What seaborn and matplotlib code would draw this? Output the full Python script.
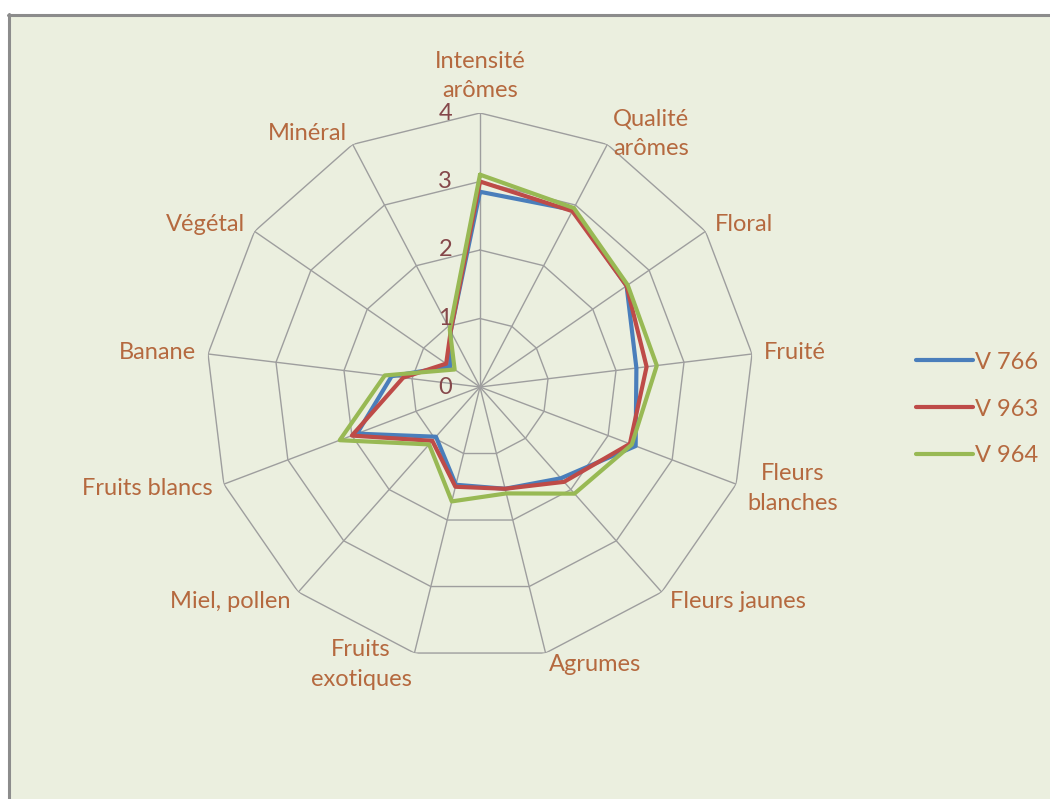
import numpy as np
import pandas as pd
import matplotlib
matplotlib.use("Agg")
import matplotlib.pyplot as plt
from matplotlib.patches import Rectangle
from matplotlib.lines import Line2D
import seaborn as sns

categories = ["Intensité\narômes", "Qualité\narômes", "Floral", "Fruité",
              "Fleurs\nblanches", "Fleurs jaunes", "Agrumes", "Fruits\nexotiques",
              "Miel, pollen", "Fruits blancs", "Banane", "Végétal", "Minéral"]
series = ["V 766", "V 963", "V 964"]
v766 = [2.85, 2.92, 2.60, 2.30, 2.43, 1.78, 1.53, 1.47, 0.97, 1.92, 1.30, 0.53, 0.92]
v963 = [3.00, 2.90, 2.60, 2.45, 2.34, 1.85, 1.53, 1.50, 1.05, 2.00, 1.13, 0.60, 0.92]
v964 = [3.10, 2.95, 2.62, 2.60, 2.37, 2.08, 1.60, 1.72, 1.12, 2.19, 1.40, 0.45, 0.95]
levels = [0, 1, 2, 3, 4]

colors = {"V 766": "#4A7EBB", "V 963": "#BE4B48", "V 964": "#98B954"}
bg = "#EBEFDF"
grid_col = "#9E9E9E"
label_col = "#B5693F"
tick_col = "#85474A"

sns.set_theme(style="white")
plt.rcParams["font.family"] = ["Lato", "DejaVu Sans"]
fs = 17

n = len(categories)
angles = np.arange(n) * 2 * np.pi / n

# tableau long pour seaborn (polygone fermé)
rows = []
for name, vals in zip(series, [v766, v963, v964]):
    for a, v in zip(list(angles) + [2 * np.pi], vals + vals[:1]):
        rows.append({"theta": a, "valeur": v, "serie": name})
df = pd.DataFrame(rows)

fig = plt.figure(figsize=(10.5, 7.99), dpi=100)
fig.patch.set_facecolor("white")

# cadre de fond
W, H = 1050, 799
fig.patches.append(Rectangle((8 / W, 0), 1 - 8 / W, (H - 14) / H,
                             transform=fig.transFigure, facecolor=bg,
                             edgecolor="none", zorder=-2))
fig.lines.append(Line2D([8 / W, 1], [(H - 15) / H] * 2, transform=fig.transFigure,
                        color="#8C8C8C", lw=2.2, zorder=-1))
fig.lines.append(Line2D([9 / W] * 2, [0, (H - 14) / H], transform=fig.transFigure,
                        color="#8C8C8C", lw=2.2, zorder=-1))

cx, cy, R = 480, 387, 274
ax = fig.add_axes([(cx - R) / W, (H - cy - R) / H, 2 * R / W, 2 * R / H],
                  projection="polar")
ax.set_facecolor("none")
ax.set_theta_zero_location("N")
ax.set_theta_direction(-1)
ax.grid(False)
ax.spines["polar"].set_visible(False)
ax.set_xticks([])
ax.set_yticks([])

# toile polygonale
closed = np.append(angles, angles[0])
for lv in levels[1:]:
    ax.plot(closed, [lv] * (n + 1), color=grid_col, lw=1.0, zorder=1)
for a in angles:
    ax.plot([a, a], [0, levels[-1]], color=grid_col, lw=1.0, zorder=1)

sns.lineplot(data=df, x="theta", y="valeur", hue="serie", palette=colors,
             sort=False, estimator=None, lw=3, ax=ax, zorder=3)
ax.set_ylim(0, levels[-1])
ax.set_xlabel("")
ax.set_ylabel("")

# graduations
for lv in levels:
    ax.annotate(str(lv), xy=(0, lv), xytext=(-28, 0), textcoords="offset pixels",
                ha="right", va="center", color=tick_col, fontsize=fs)

# libellés des catégories
pad = 12
for a, lab in zip(angles, categories):
    s, c = np.sin(a), np.cos(a)
    if abs(s) < 0.05:
        ha, va = "center", "bottom"
    else:
        ha, va = ("left" if s > 0 else "right"), "center"
    ax.annotate(lab, xy=(a, levels[-1]), xytext=(pad * s, pad * c),
                textcoords="offset pixels", ha=ha, va=va, color=label_col,
                fontsize=fs, multialignment="center", linespacing=1.5)

# légende
ax.get_legend().remove()
handles = [Line2D([], [], color=colors[s], lw=3) for s in series]
leg = fig.legend(handles, series, loc="center left",
                 bbox_to_anchor=(916 / W, (H - 409) / H), frameon=False,
                 fontsize=fs, handlelength=2.4, handletextpad=0.1,
                 labelspacing=1.1, borderpad=0, borderaxespad=0)
for t in leg.get_texts():
    t.set_color(label_col)

fig.savefig("out.png", dpi=100, facecolor=fig.get_facecolor())
